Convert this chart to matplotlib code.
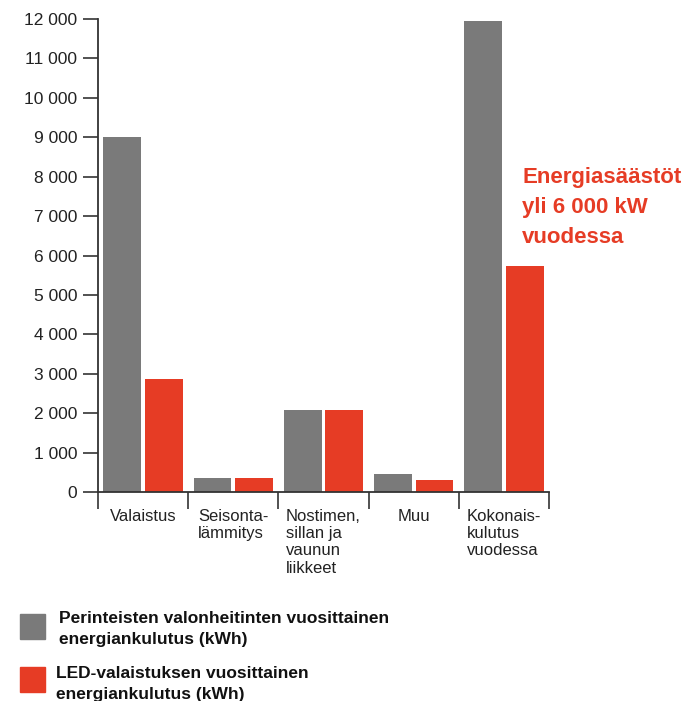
import matplotlib.pyplot as plt
from matplotlib.patches import Rectangle

plt.rcParams['font.family'] = ['Liberation Sans', 'DejaVu Sans']

categories = ['Valaistus', 'Seisonta-\nlämmitys', 'Nostimen,\nsillan ja\nvaunun\nliikkeet',
              'Muu', 'Kokonais-\nkulutus\nvuodessa']
traditional = [9000, 350, 2080, 450, 11940]
led = [2870, 350, 2080, 300, 5740]
yticks = list(range(0, 13000, 1000))

gray = '#7a7a7a'
red = '#e63c25'
axis_color = '#333333'

fig = plt.figure(figsize=(6.94, 7.01), dpi=100)
ax = fig.add_axes([98 / 694, 1 - 492 / 701, 451 / 694, 473 / 701])

x = list(range(len(categories)))
ax.bar([i + 0.27 for i in x], traditional, width=0.42, color=gray)
ax.bar([i + 0.73 for i in x], led, width=0.42, color=red)

ax.set_xlim(0, len(categories))
ax.set_ylim(0, 12000)

for s in ['top', 'right']:
    ax.spines[s].set_visible(False)
for s in ['left', 'bottom']:
    ax.spines[s].set_color(axis_color)
    ax.spines[s].set_linewidth(1.3)

ax.set_yticks(yticks)
ax.set_yticklabels([f'{v:,}'.replace(',', ' ') for v in yticks])
ax.tick_params(axis='y', direction='out', length=11, width=1.2, color=axis_color,
               labelsize=12.5, labelcolor='#222222', pad=4)

ax.set_xticks(range(len(categories) + 1))
ax.set_xticklabels([])
ax.tick_params(axis='x', which='major', direction='out', length=12, width=1.2, color=axis_color)
ax.set_xticks([i + 0.5 for i in x], minor=True)
ax.set_xticklabels(categories, minor=True)
ax.tick_params(axis='x', which='minor', length=0, labelsize=12, labelcolor='#222222', pad=12)
for lbl in ax.get_xticklabels(minor=True):
    lbl.set_multialignment('left')
    lbl.set_linespacing(1.2)

fig.text(522 / 694, 1 - 167 / 701, 'Energiasäästöt\nyli 6 000 kW\nvuodessa', color=red,
         fontsize=16, fontweight='bold', va='top', ha='left', linespacing=1.55)

# legend
fig.patches.append(Rectangle((20 / 694, 1 - 639 / 701), 25 / 694, 25 / 701,
                             transform=fig.transFigure, color=gray))
fig.patches.append(Rectangle((20 / 694, 1 - 692 / 701), 25 / 694, 25 / 701,
                             transform=fig.transFigure, color=red))
fig.text(59 / 694, 1 - 611 / 701, 'Perinteisten valonheitinten vuosittainen\nenergiankulutus (kWh)',
         fontsize=12.5, fontweight='bold', va='top', ha='left', color='#111111', linespacing=1.5)
fig.text(56 / 694, 1 - 666 / 701, 'LED-valaistuksen vuosittainen\nenergiankulutus (kWh)',
         fontsize=12.5, fontweight='bold', va='top', ha='left', color='#111111', linespacing=1.5)

fig.savefig('out.png', dpi=100)
